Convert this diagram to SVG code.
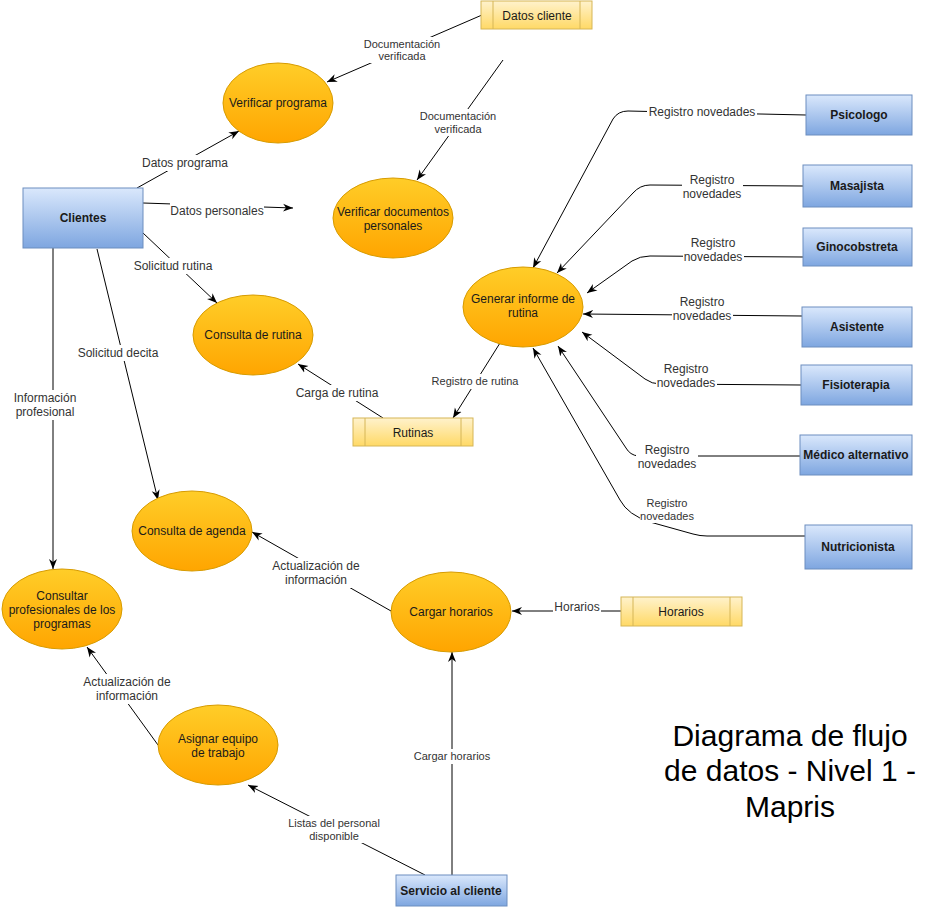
<svg xmlns="http://www.w3.org/2000/svg" width="933" height="915" viewBox="0 0 933 915">
<defs>
<linearGradient id="gO" x1="0" y1="0" x2="0" y2="1"><stop offset="0" stop-color="#ffcd28"/><stop offset="1" stop-color="#ffa500"/></linearGradient>
<linearGradient id="gB" x1="0" y1="0" x2="0" y2="1"><stop offset="0" stop-color="#dae8fc"/><stop offset="1" stop-color="#7ea6e0"/></linearGradient>
<linearGradient id="gY" x1="0" y1="0" x2="0" y2="1"><stop offset="0" stop-color="#fff2cc"/><stop offset="1" stop-color="#ffd966"/></linearGradient>
<marker id="arr" viewBox="0 0 10 10" refX="10" refY="5" markerWidth="10" markerHeight="10" markerUnits="userSpaceOnUse" orient="auto"><path d="M0,1 L10,5 L0,9 L3,5 Z" fill="#000"/></marker>
</defs>
<style>
text{font-family:"Liberation Sans",Arial,sans-serif;fill:#1a1a1a;text-anchor:middle}
.p{fill:url(#gO);stroke:#d79b00;stroke-width:1}
.e{fill:url(#gB);stroke:#6c8ebf;stroke-width:1}
.s{fill:url(#gY);stroke:#d6b656;stroke-width:1}
.sl{stroke:#d6b656;stroke-width:1}
.n{font-size:12px}
.b{font-size:12px;font-weight:bold}
.c{fill:none;stroke:#000;stroke-width:1}
.a{marker-end:url(#arr)}
.bg{fill:#fff}
.l{font-size:12px;fill:#333}
.ls{font-size:11px;fill:#333}
.t{font-size:30px;fill:#000}
</style>
<rect width="933" height="915" fill="#fff"/>
<g id="connectors">
<path class="c a" d="M482,15 L327,82"/>
<path class="c a" d="M503,60 L417,180"/>
<path class="c a" d="M137,188 L239,131"/>
<path class="c a" d="M143,203 L293,208"/>
<path class="c a" d="M143,233 L217,303"/>
<path class="c a" d="M97,249 L158,500"/>
<path class="c a" d="M53,248 L53,569"/>
<path class="c a" d="M383,418 L298,364"/>
<path class="c a" d="M500,343 L453,418"/>
<path class="c a" d="M806,115 L760,114 L628,111 Q618,111 613,119 L533,268"/>
<path class="c a" d="M803,186 L650,185 Q640,185 633,193 L557,273"/>
<path class="c a" d="M803,257 L650,256 Q640,256 632,261 L587,293"/>
<path class="c a" d="M802,316 L583,314"/>
<path class="c a" d="M801,385 L660,384 Q652,384 645,379 L582,332"/>
<path class="c a" d="M800,456 L638,456 Q630,455 626,448 L558,346"/>
<path class="c a" d="M805,536 L707,536 Q700,536 693,534 L650,522 Q628,515 620,500 L533,348"/>
<path class="c a" d="M621,611 L512,611"/>
<path class="c a" d="M391,611 L252,532"/>
<path class="c a" d="M158,745 L87,647"/>
<path class="c a" d="M425,875 L248,785"/>
<path class="c a" d="M452,875 L452,652"/>
<g id="edge-labels">
<rect class="bg" x="364" y="37" width="76" height="26"/>
<text class="ls" x="402" y="48">Documentación</text><text class="ls" x="402" y="60">verificada</text>
<rect class="bg" x="420" y="109" width="76" height="27"/>
<text class="ls" x="458" y="120">Documentación</text><text class="ls" x="458" y="133">verificada</text>
<rect class="bg" x="142" y="155" width="86" height="16"/>
<text class="l" x="185" y="167">Datos programa</text>
<rect class="bg" x="170" y="203" width="94" height="16"/>
<text class="l" x="217" y="215">Datos personales</text>
<rect class="bg" x="131" y="258" width="84" height="16"/>
<text class="l" x="173" y="270">Solicitud rutina</text>
<rect class="bg" x="76" y="345" width="84" height="16"/>
<text class="l" x="118" y="357">Solicitud decita</text>
<rect class="bg" x="12" y="390" width="66" height="30"/>
<text class="l" x="45" y="402">Información</text><text class="l" x="45" y="416">profesional</text>
<rect class="bg" x="294" y="385" width="86" height="16"/>
<text class="l" x="337" y="397">Carga de rutina</text>
<rect class="bg" x="430" y="374" width="90" height="15"/>
<text class="ls" x="475" y="385">Registro de rutina</text>
<rect class="bg" x="647" y="104" width="110" height="16"/>
<text class="l" x="702" y="116">Registro novedades</text>
<rect class="bg" x="682" y="172" width="61" height="30"/>
<text class="l" x="712" y="184">Registro</text><text class="l" x="712" y="198">novedades</text>
<rect class="bg" x="683" y="235" width="61" height="30"/>
<text class="l" x="713" y="247">Registro</text><text class="l" x="713" y="261">novedades</text>
<rect class="bg" x="672" y="294" width="61" height="30"/>
<text class="l" x="702" y="306">Registro</text><text class="l" x="702" y="320">novedades</text>
<rect class="bg" x="656" y="361" width="61" height="30"/>
<text class="l" x="686" y="373">Registro</text><text class="l" x="686" y="387">novedades</text>
<rect class="bg" x="636" y="442" width="62" height="30"/>
<text class="l" x="667" y="454">Registro</text><text class="l" x="667" y="468">novedades</text>
<rect class="bg" x="640" y="496" width="55" height="27"/>
<text class="ls" x="667" y="507">Registro</text><text class="ls" x="667" y="520">novedades</text>
<rect class="bg" x="553" y="599" width="48" height="16"/>
<text class="l" x="577" y="611">Horarios</text>
<rect class="bg" x="269" y="558" width="94" height="30"/>
<text class="l" x="316" y="570">Actualización de</text><text class="l" x="316" y="584">información</text>
<rect class="bg" x="80" y="674" width="94" height="30"/>
<text class="l" x="127" y="686">Actualización de</text><text class="l" x="127" y="700">información</text>
<rect class="bg" x="287" y="816" width="94" height="27"/>
<text class="ls" x="334" y="827">Listas del personal</text><text class="ls" x="334" y="840">disponible</text>
<rect class="bg" x="413" y="749" width="77" height="15"/>
<text class="ls" x="452" y="760">Cargar horarios</text>
</g>
</g>
<g id="verificar-programa"><ellipse class="p" cx="278" cy="103" rx="55" ry="40"/><text class="n" x="278" y="107">Verificar programa</text></g>
<g id="verificar-documentos"><ellipse class="p" cx="393" cy="218" rx="60" ry="40"/><text class="n" x="393" y="216">Verificar documentos</text><text class="n" x="393" y="230">personales</text></g>
<g id="generar-informe"><ellipse class="p" cx="523" cy="307" rx="60" ry="40"/><text class="n" x="523" y="303">Generar informe de</text><text class="n" x="523" y="317">rutina</text></g>
<g id="consulta-rutina"><ellipse class="p" cx="253" cy="335" rx="60" ry="40"/><text class="n" x="253" y="339">Consulta de rutina</text></g>
<g id="consulta-agenda"><ellipse class="p" cx="192" cy="531" rx="60" ry="40"/><text class="n" x="192" y="535">Consulta de agenda</text></g>
<g id="consultar-profesionales"><ellipse class="p" cx="62" cy="609" rx="60" ry="40"/><text class="n" x="62" y="600">Consultar</text><text class="n" x="62" y="614">profesionales de los</text><text class="n" x="62" y="628">programas</text></g>
<g id="asignar-equipo"><ellipse class="p" cx="218" cy="745" rx="60" ry="40"/><text class="n" x="218" y="743">Asignar equipo</text><text class="n" x="218" y="757">de trabajo</text></g>
<g id="cargar-horarios"><ellipse class="p" cx="451" cy="612" rx="60" ry="40"/><text class="n" x="451" y="616">Cargar horarios</text></g>
<g id="clientes"><rect class="e" x="23" y="188" width="120" height="60"/><text class="b" x="83" y="222">Clientes</text></g>
<g id="psicologo"><rect class="e" x="806" y="95" width="106" height="40"/><text class="b" x="859" y="119">Psicologo</text></g>
<g id="masajista"><rect class="e" x="803" y="165" width="109" height="42"/><text class="b" x="857" y="190">Masajista</text></g>
<g id="ginocobstreta"><rect class="e" x="803" y="228" width="109" height="38"/><text class="b" x="857" y="251">Ginocobstreta</text></g>
<g id="asistente"><rect class="e" x="802" y="307" width="110" height="40"/><text class="b" x="857" y="331">Asistente</text></g>
<g id="fisioterapia"><rect class="e" x="801" y="365" width="111" height="40"/><text class="b" x="856" y="389">Fisioterapia</text></g>
<g id="medico-alternativo"><rect class="e" x="800" y="435" width="112" height="40"/><text class="b" x="856" y="459">Médico alternativo</text></g>
<g id="nutricionista"><rect class="e" x="805" y="525" width="107" height="44"/><text class="b" x="858" y="551">Nutricionista</text></g>
<g id="servicio-cliente"><rect class="e" x="396" y="875" width="111" height="31"/><text class="b" x="451" y="895">Servicio al cliente</text></g>
<g id="datos-cliente"><rect class="s" x="481" y="1" width="111" height="28"/><line class="sl" x1="493" y1="1" x2="493" y2="29"/><line class="sl" x1="580" y1="1" x2="580" y2="29"/><text class="n" x="537" y="20">Datos cliente</text></g>
<g id="rutinas"><rect class="s" x="353" y="418" width="120" height="28"/><line class="sl" x1="365" y1="418" x2="365" y2="446"/><line class="sl" x1="461" y1="418" x2="461" y2="446"/><text class="n" x="413" y="437">Rutinas</text></g>
<g id="horarios"><rect class="s" x="621" y="597" width="121" height="29"/><line class="sl" x1="633" y1="597" x2="633" y2="626"/><line class="sl" x1="730" y1="597" x2="730" y2="626"/><text class="n" x="681" y="616">Horarios</text></g>
<g id="title"><text class="t" x="790" y="746">Diagrama de flujo</text><text class="t" x="790" y="781">de datos - Nivel 1 -</text><text class="t" x="790" y="817">Mapris</text></g>
</svg>
